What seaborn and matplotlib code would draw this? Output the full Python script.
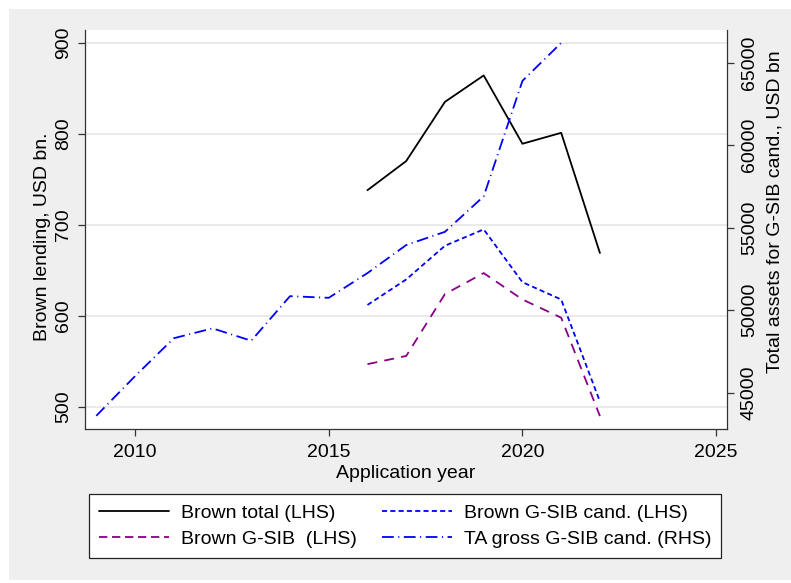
import matplotlib
matplotlib.use("Agg")
import matplotlib.pyplot as plt
from matplotlib.patches import Rectangle
from matplotlib.lines import Line2D
import seaborn as sns
import pandas as pd

# ---- data -------------------------------------------------------------
years_lhs = [2016, 2017, 2018, 2019, 2020, 2021, 2022]
brown_total = [738, 770, 835, 864, 789, 801, 669]
brown_gsib = [547, 556, 624, 647, 618, 598, 490]
brown_gsib_cand = [612, 640, 677, 695, 637, 618, 506]

years_rhs = list(range(2009, 2022))
ta_gross_gsib_cand = [43600, 46000, 48300, 48900, 48150, 50850, 50750,
                      52250, 53950, 54750, 56900, 63900, 66200]

x_ticks = [2010, 2015, 2020, 2025]
lhs_ticks = [500, 600, 700, 800, 900]
rhs_ticks = [45000, 50000, 55000, 60000, 65000]

labels = ["Brown total (LHS)", "Brown G-SIB  (LHS)",
          "Brown G-SIB cand. (LHS)", "TA gross G-SIB cand. (RHS)"]

# ---- style ------------------------------------------------------------
sns.set_theme(style="white")
plt.rcParams["font.family"] = ["Liberation Sans", "DejaVu Sans"]
plt.rcParams["text.color"] = "black"
FS = 14
W, H = 791, 583
fig = plt.figure(figsize=(W / 100, H / 100), dpi=100, facecolor="white")

# grey graph region behind everything
fig.patches.append(Rectangle((9 / W, 1 - 580 / H), (W - 9) / W, (580 - 9) / H,
                             transform=fig.transFigure, facecolor="#efefef",
                             edgecolor="none", zorder=-10))

ax = fig.add_axes([84.5 / W, 1 - 429 / H, (727 - 84.5) / W, (429 - 30) / H])
ax.set_zorder(1)
ax.set_facecolor("white")
ax2 = ax.twinx()
ax2.set_zorder(2)
ax2.patch.set_visible(False)

BLACK, PURPLE, BLUE = "#000000", "#880088", "#0000ff"
LW = 1.3
styles = {
    "total": dict(color=BLACK),
    "gsib": dict(color=PURPLE, dashes=(5.5, 4.0)),
    "cand": dict(color=BLUE, dashes=(2.8, 1.8)),
    "ta": dict(color=BLUE, dashes=(6.5, 2.5, 0.6, 2.5)),
}

df_lhs = pd.DataFrame({"year": years_lhs, "total": brown_total,
                       "gsib": brown_gsib, "cand": brown_gsib_cand})
df_rhs = pd.DataFrame({"year": years_rhs, "ta": ta_gross_gsib_cand})

for key in ["total", "gsib", "cand"]:
    st = styles[key]
    sns.lineplot(data=df_lhs, x="year", y=key, ax=ax, color=st["color"],
                 lw=LW, legend=False)
    if "dashes" in st:
        ax.lines[-1].set_dashes(st["dashes"])

sns.lineplot(data=df_rhs, x="year", y="ta", ax=ax2, color=BLUE, lw=LW, legend=False)
ax2.lines[-1].set_dashes(styles["ta"]["dashes"])

# ---- axes -------------------------------------------------------------
ax.set_xlim(2008.696, 2025.28)
ax.set_ylim(475.8, 913.9)
ax2.set_ylim(42800, 66982)

ax.set_xticks(x_ticks)
ax.set_yticks(lhs_ticks)
ax2.set_yticks(rhs_ticks)
ax.set_xticklabels([str(t) for t in x_ticks], fontsize=FS)
ax.set_yticklabels([str(t) for t in lhs_ticks], fontsize=FS, rotation=90, va="center")
ax2.set_yticklabels([str(t) for t in rhs_ticks], fontsize=FS, rotation=90, va="center")

ax.grid(axis="y", color="#e6e6e6", lw=1.2)
ax.grid(axis="x", visible=False)
ax2.grid(False)
ax.set_axisbelow(True)

for a in (ax, ax2):
    a.spines["top"].set_visible(False)
    for s in a.spines.values():
        s.set_color("#333333")
        s.set_linewidth(0.9)
ax.spines["right"].set_visible(False)
ax2.spines["left"].set_visible(False)
ax2.spines["bottom"].set_visible(False)

ax.tick_params(axis="y", direction="out", length=5, width=0.9,
               color="#333333", pad=4, labelcolor="black", left=True)
ax.tick_params(axis="x", direction="out", length=5, width=0.9,
               color="#333333", pad=6, labelcolor="black", bottom=True)
ax2.tick_params(axis="y", direction="out", length=5, width=0.9,
                color="#333333", pad=5, right=True, labelcolor="black")

ax.set_xlabel("Application year", fontsize=FS, labelpad=3, color="black")
ax.set_ylabel("Brown lending, USD bn.", fontsize=FS, color="black")
ax.yaxis.set_label_coords(-0.0514, 0.481)
ax2.set_ylabel("Total assets for G-SIB cand., USD bn", fontsize=FS,
               color="black")
ax2.yaxis.set_label_coords(1.061, 0.544)

# ---- legend -----------------------------------------------------------
handles = [
    Line2D([], [], color=BLACK, lw=LW),
    Line2D([], [], color=PURPLE, lw=LW, dashes=(4.6, 2.6)),
    Line2D([], [], color=BLUE, lw=LW, dashes=styles["cand"]["dashes"]),
    Line2D([], [], color=BLUE, lw=LW, dashes=styles["ta"]["dashes"]),
]
leg = fig.legend(handles, labels, ncol=2, loc="upper left",
                 bbox_to_anchor=(89.3 / W, 1 - 494.3 / H), borderaxespad=0,
                 fontsize=FS, frameon=True, fancybox=False, framealpha=1,
                 edgecolor="#222222", facecolor="white", handlelength=3.6,
                 handletextpad=0.6, columnspacing=1.3, borderpad=0.5,
                 labelspacing=0.45)
leg.get_frame().set_linewidth(0.9)
for t in leg.get_texts():
    t.set_color("black")

fig.savefig("out.png", dpi=100, facecolor=fig.get_facecolor())
